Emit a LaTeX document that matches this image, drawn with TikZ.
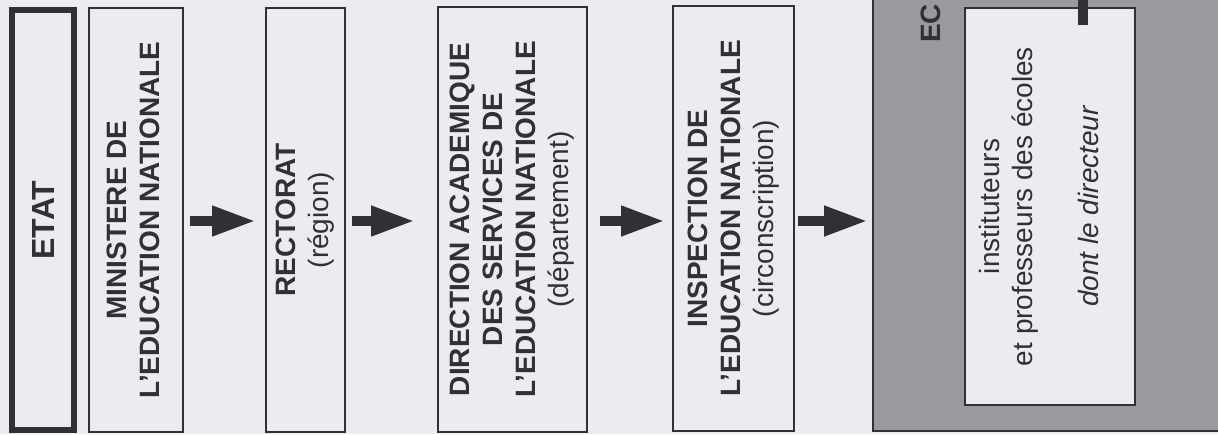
\documentclass[tikz,border=0pt]{standalone}
\usepackage{fontspec}
\setmainfont{Liberation Sans}
\usetikzlibrary{arrows.meta}
\definecolor{paper}{RGB}{237,234,240}
\definecolor{ink}{RGB}{50,48,54}
\definecolor{halftone}{RGB}{155,152,160}
\begin{document}
\begin{tikzpicture}[x=1pt,y=-1pt,
  box/.style={draw=ink, line width=2pt, fill=paper, inner sep=0pt, text=ink,
    font=\fontsize{28}{33}\selectfont},
  bigarrow/.style={draw=ink, line width=10pt, -{Triangle[length=44pt,width=28pt]}},
  rtext/.style={text=ink, inner sep=0pt, font=\fontsize{28}{33}\selectfont}
]
\fill[paper] (0,0) rectangle (1218,434);
\useasboundingbox (0,0) rectangle (1218,434);

% ECOLE (grey, cut by the edge)
\node[box, fill=halftone, minimum width=357pt, minimum height=451pt] (ecole) at (1051.5,205.5) {};
\node[rtext, font=\bfseries\fontsize{28}{33}\selectfont, rotate=90, anchor=base west] (ec) at (940,43) {EC};
\node[box, line width=2.5pt, minimum width=170pt, minimum height=397pt] (ens) at (1050,206.5) {};
\node[rtext] (enstext) at (1042,206.5) {\rotatebox{90}{\begin{tabular}{@{}c@{}}instituteurs\\ et professeurs des écoles\\ \\ \itshape dont le directeur\end{tabular}}};
\coordinate (barTop) at (1083,-5);
\coordinate (barEnd) at (1083,25);
\draw[ink, line width=10pt] (barTop) -- (barEnd);

% ETAT
\node[box, line width=6pt, minimum width=62pt, minimum height=420pt] (etat) at (43,220)
  {\rotatebox{90}{\bfseries\fontsize{32}{36}\selectfont ETAT}};

% MINISTERE
\node[box, minimum width=94pt, minimum height=424pt] (min) at (136,220)
  {\rotatebox{90}{\begin{tabular}{@{}c@{}}\bfseries MINISTERE DE\\ \bfseries L’EDUCATION NATIONALE\end{tabular}}};

% RECTORAT
\node[box, minimum width=79pt, minimum height=424pt] (rect) at (305.5,220)
  {\rotatebox{90}{\begin{tabular}{@{}c@{}}\bfseries RECTORAT\\ (région)\end{tabular}}};

% DIRECTION ACADEMIQUE
\node[box, minimum width=149pt, minimum height=425pt] (dir) at (512.5,219.5)
  {\rotatebox{90}{\begin{tabular}{@{}c@{}}\bfseries DIRECTION ACADEMIQUE\\ \bfseries DES SERVICES DE\\ \bfseries L’EDUCATION NATIONALE\\ (département)\end{tabular}}};

% INSPECTION
\node[box, minimum width=121pt, minimum height=425pt] (insp) at (733.5,218.5)
  {\rotatebox{90}{\begin{tabular}{@{}c@{}}\bfseries INSPECTION DE\\ \bfseries L’EDUCATION NATIONALE\\ (circonscription)\end{tabular}}};

% arrows
\draw[bigarrow, shorten <=6pt, shorten >=9pt] (min.east |- 0,221) -- (rect.west |- 0,221);
\draw[bigarrow, shorten <=6pt, shorten >=22pt] (rect.east |- 0,221) -- (dir.west |- 0,221);
\draw[bigarrow, shorten <=12pt, shorten >=7pt] (dir.east |- 0,221) -- (insp.west |- 0,221);
\draw[bigarrow, shorten <=3pt, shorten >=4pt] (insp.east |- 0,221) -- (ecole.west |- 0,221);
\end{tikzpicture}
\end{document}
